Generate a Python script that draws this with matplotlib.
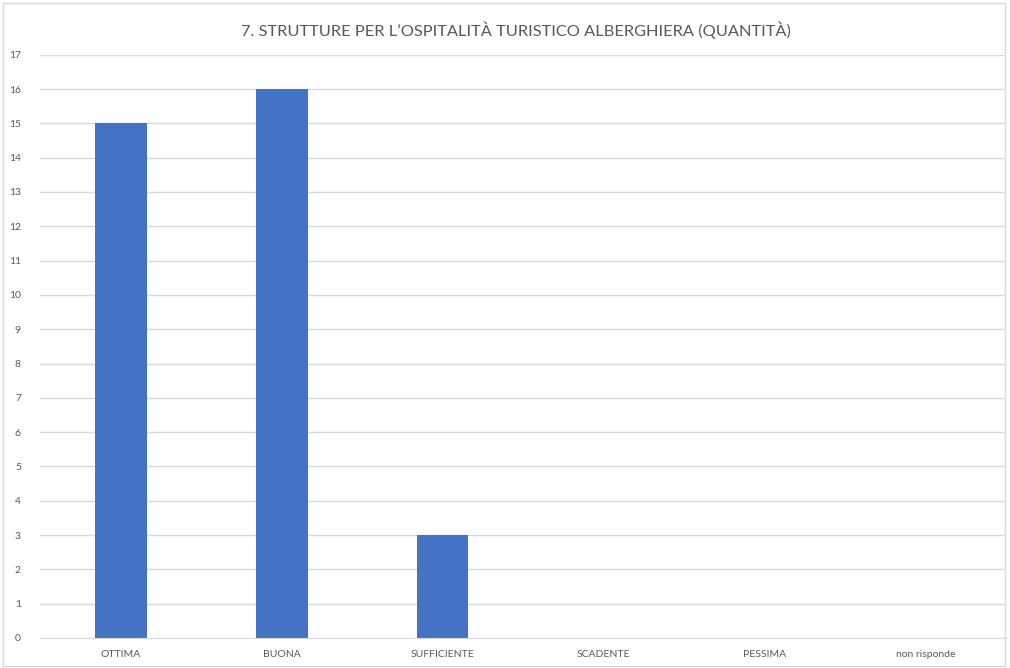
import matplotlib.pyplot as plt
from matplotlib.patches import Rectangle

CATEGORIES = ["OTTIMA", "BUONA", "SUFFICIENTE", "SCADENTE", "PESSIMA", "non risponde"]
VALUES = [15, 16, 3, 0, 0, 0]
TITLE = "7. STRUTTURE PER L\u2019OSPITALIT\u00c0 TURISTICO ALBERGHIERA (QUANTIT\u00c0)"

BAR_COLOR = "#4472C4"
TEXT_COLOR = "#595959"
GRID_COLOR = "#d9d9d9"

plt.rcParams["font.family"] = ["Lato", "DejaVu Sans"]

fig = plt.figure(figsize=(10.10, 6.68), dpi=100)
fig.patches.append(Rectangle((0.003, 0.003), 0.992, 0.992, transform=fig.transFigure,
                             fill=False, edgecolor="#d9d9d9", linewidth=1))
ax = fig.add_axes([0.040, 0.045, 0.956, 0.873])

x = range(len(CATEGORIES))
ax.bar(x, VALUES, width=0.32, color=BAR_COLOR, zorder=3)

ax.set_xlim(-0.5, len(CATEGORIES) - 0.5)
ax.set_ylim(0, 17)
ax.set_yticks(range(0, 18))
ax.set_xticks(list(x))
ax.set_xticklabels(CATEGORIES)
ax.tick_params(axis="both", length=0, labelsize=7.5, colors=TEXT_COLOR)
ax.tick_params(axis="x", pad=9)
ax.tick_params(axis="y", pad=14)

ax.grid(axis="y", color=GRID_COLOR, linewidth=1, zorder=0)
for side in ["top", "right", "left"]:
    ax.spines[side].set_visible(False)
ax.spines["bottom"].set_color(GRID_COLOR)

fig.text(0.511, 0.955, TITLE, ha="center", va="center", fontsize=11.8, color=TEXT_COLOR)

fig.savefig("out.png", dpi=100)
